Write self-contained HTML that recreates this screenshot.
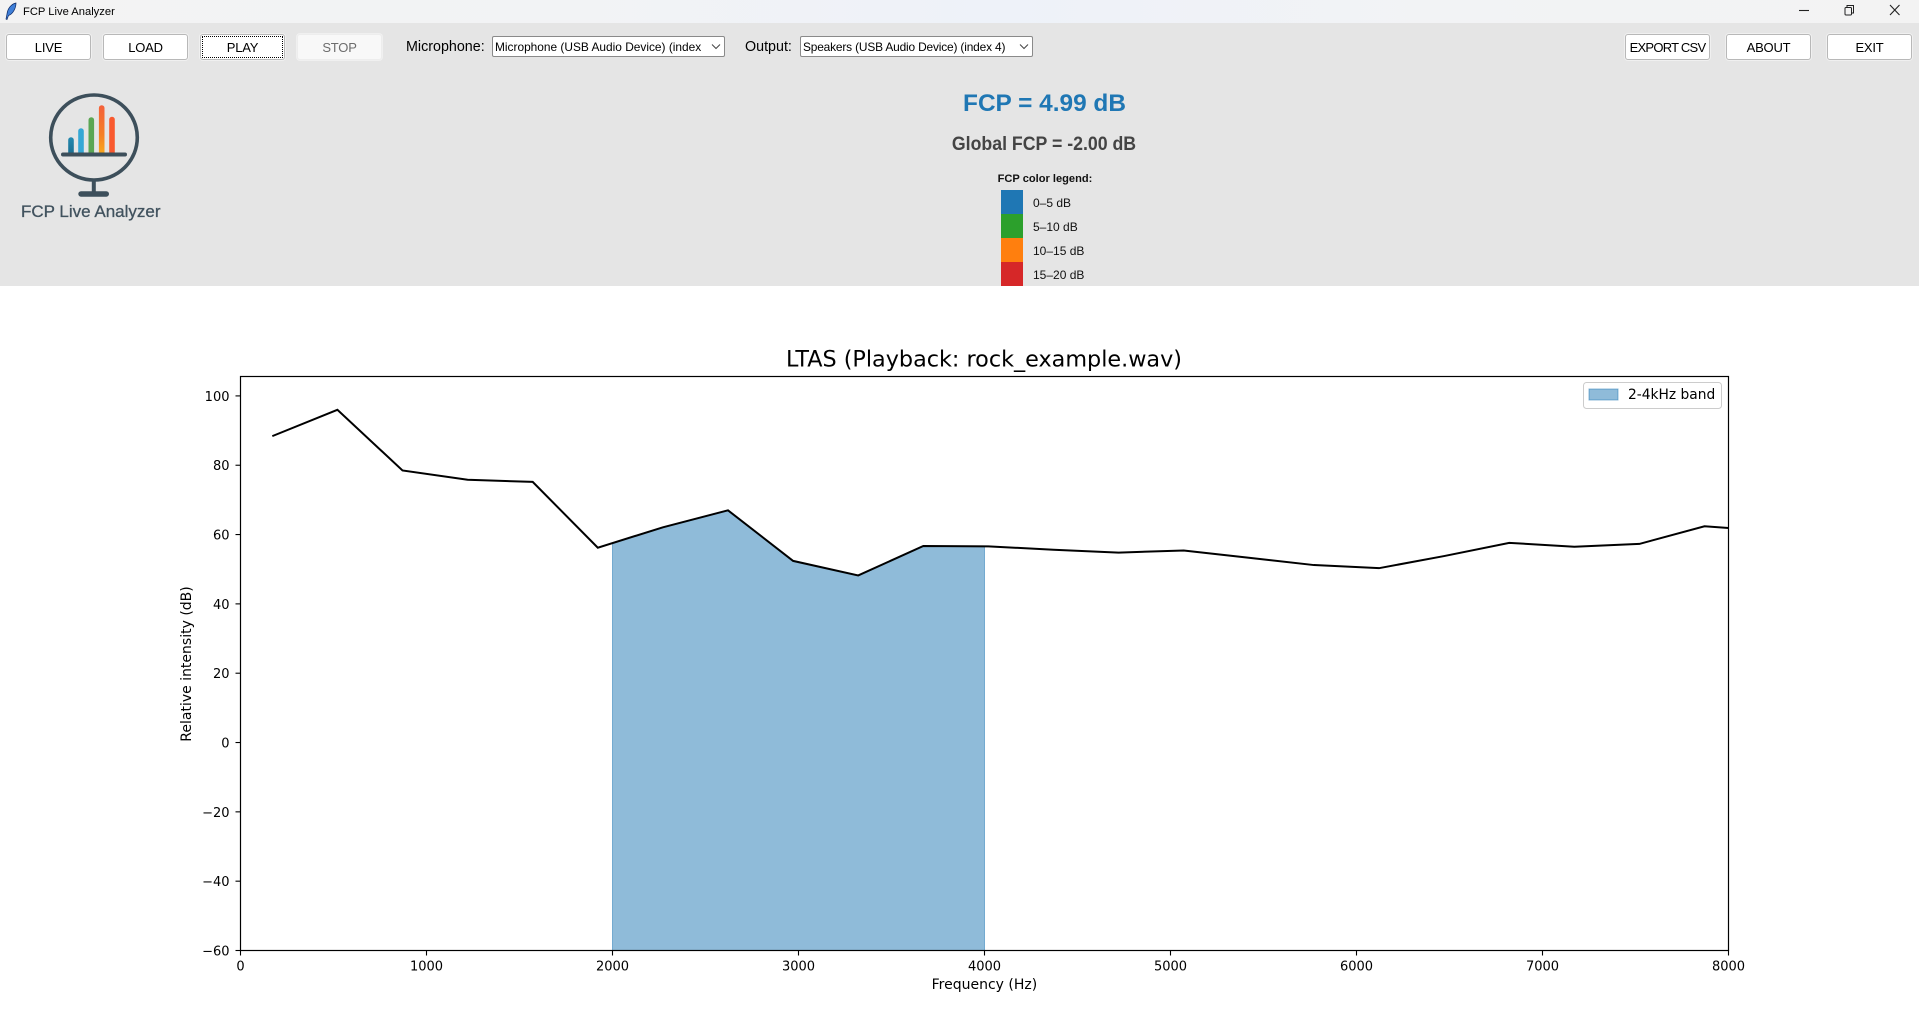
<!DOCTYPE html>
<html lang="en">
<head>
<meta charset="utf-8">
<title>FCP Live Analyzer</title>
<style>
html,body{margin:0;padding:0;width:1919px;height:1030px;overflow:hidden;background:#fff;font-family:"Liberation Sans",sans-serif;color:#000}
.abs{position:absolute;white-space:nowrap}
#titlebar{left:0;top:0;width:1919px;height:23px;background:linear-gradient(90deg,#f3f3f3 0%,#f2f3f5 30%,#eef2f9 52%,#f2f3f5 75%,#f3f3f3 100%)}
#panel{left:0;top:23px;width:1919px;height:263px;background:#e5e5e5}
.btn{position:absolute;top:34px;height:26px;box-sizing:border-box;background:#fff;border:1px solid #b8b8b8;border-radius:3px;box-shadow:0 0 0 1px #f0f0f0;font:13px/26px "Liberation Sans",sans-serif;letter-spacing:-.2px;text-align:center;padding:0;color:#000}
.btn.off{background:#f8f8f8;border-color:#ededed;color:#6d6d6d}
.btn.focus:after{content:"";position:absolute;left:1px;top:1px;right:1px;bottom:1px;border:1px dotted #000}
.lbl{font-size:14.3px;line-height:20px;top:37px}
.sel{position:absolute;top:36px;height:21px;box-sizing:border-box;background:#fff;border:1px solid #8a8a8a;border-radius:2px;font-size:11.9px;line-height:20px;padding-left:2px;white-space:nowrap;overflow:hidden}
.sel svg{position:absolute;top:6px}
.lg{font-size:12px;line-height:14px;left:1033px;color:#111}
.sw{left:1001px;width:22px;height:24px}
</style>
</head>
<body>
<div class="abs" id="titlebar"></div>
<svg class="abs" style="left:4px;top:2px" width="14" height="19" viewBox="0 0 14 19"><path d="M12 1C7 2 3.500 7 3 12l-1 5 1 .5 1.500-4C9 12 12 6 12 1z" fill="#3f7fd8" stroke="#0d2a66" stroke-width=".7"/></svg>
<div class="abs" style="left:23px;top:5px;font-size:11.2px;line-height:15px">FCP Live Analyzer</div>
<svg class="abs" style="left:1795px;top:3px" width="115" height="16" viewBox="0 0 115 16"><path d="M4 7.500H14" stroke="#222" stroke-width="1.100"/><g fill="none" stroke="#222"><rect x="50" y="4.500" width="6.500" height="7.500" rx="1"/><path d="M52 4.500V2.500H58.500V10H56.500"/></g><path d="M95 2L104.500 12M104.500 2L95 12" stroke="#222" stroke-width="1.100"/></svg>

<div class="abs" id="panel"></div>

<button class="btn" style="left:6px;width:85px">LIVE</button>
<button class="btn" style="left:103px;width:85px">LOAD</button>
<button class="btn focus" style="left:200px;width:85px">PLAY</button>
<button class="btn off" style="left:297px;width:85px">STOP</button>
<div class="abs lbl" style="left:406px">Microphone:</div>
<div class="sel" style="left:492px;width:233px">Microphone (USB Audio Device) (index<svg style="left:218px" width="10" height="7" viewBox="0 0 10 7"><path d="M1 1.500L5 5.500L9 1.500" fill="none" stroke="#444"/></svg></div>
<div class="abs lbl" style="left:745px">Output:</div>
<div class="sel" style="left:800px;width:233px;letter-spacing:-.16px">Speakers (USB Audio Device) (index 4)<svg style="left:218px" width="10" height="7" viewBox="0 0 10 7"><path d="M1 1.500L5 5.500L9 1.500" fill="none" stroke="#444"/></svg></div>
<button class="btn" style="left:1625px;width:85px;letter-spacing:-.75px">EXPORT CSV</button>
<button class="btn" style="left:1726px;width:85px">ABOUT</button>
<button class="btn" style="left:1827px;width:85px">EXIT</button>

<svg class="abs" style="left:0;top:70px" width="200" height="170" viewBox="0 70 200 170">
<defs>
<linearGradient id="g1" x1="0" y1="0" x2="0" y2="1"><stop offset="0" stop-color="#2389b0"/><stop offset="1" stop-color="#1a6f92"/></linearGradient>
<linearGradient id="g4" x1="0" y1="0" x2="0" y2="1"><stop offset="0" stop-color="#f4603a"/><stop offset=".6" stop-color="#f57f25"/><stop offset="1" stop-color="#f9a71c"/></linearGradient>
</defs>
<ellipse cx="94" cy="137.500" rx="43.300" ry="42.500" fill="none" stroke="#3d4f5b" stroke-width="3.600"/>
<path d="M68.200 154V140a2.800 2.800 0 0 1 5.600 0V154z" fill="url(#g1)"/>
<path d="M78.200 154V131a2.800 2.800 0 0 1 5.600 0V154z" fill="#35a7d5"/>
<path d="M88.500 154V120a2.800 2.800 0 0 1 5.600 0V154z" fill="#5aa653"/>
<path d="M98.900 154V108a2.800 2.800 0 0 1 5.600 0V154z" fill="url(#g4)"/>
<path d="M109.200 154V119.500a2.800 2.800 0 0 1 5.600 0V154z" fill="#f9592e"/>
<rect x="61" y="152.500" width="66" height="4" rx="2" fill="#3d4f5b"/>
<rect x="91.800" y="181" width="4" height="13" fill="#3d4f5b"/>
<rect x="78.300" y="191.200" width="30.700" height="5.500" rx="2.700" fill="#3d4f5b"/>
<text x="21" y="217" font-family="Liberation Sans, sans-serif" font-size="17" fill="#41525e" stroke="#41525e" stroke-width=".3">FCP Live Analyzer</text>
</svg>

<div class="abs" style="left:844.500px;width:400px;top:89px;text-align:center;font-size:24.400px;line-height:30px;font-weight:bold;color:#1f77b4">FCP = 4.99 dB</div>
<div class="abs" style="left:844px;width:400px;top:133px;text-align:center;font-size:19px;line-height:24px;font-weight:bold;color:#444;transform:scaleX(.932)">Global FCP = -2.00 dB</div>
<div class="abs" style="left:845px;width:400px;top:172px;text-align:center;font-size:11.100px;line-height:14px;font-weight:bold;color:#111">FCP color legend:</div>
<div class="abs sw" style="top:190px;background:#1f77b4"></div>
<div class="abs sw" style="top:214px;background:#2ca02c"></div>
<div class="abs sw" style="top:238px;background:#ff7f0e"></div>
<div class="abs sw" style="top:262px;background:#d62728"></div>
<div class="abs lg" style="top:195.500px">0–5 dB</div>
<div class="abs lg" style="top:219.500px">5–10 dB</div>
<div class="abs lg" style="top:243.500px">10–15 dB</div>
<div class="abs lg" style="top:267.500px">15–20 dB</div>

<svg class="abs" id="chart" style="left:0;top:286px" width="1919" height="744" viewBox="0 286 1919 744" font-family="DejaVu Sans, sans-serif">
<defs><clipPath id="plotClip"><rect x="240.500" y="376.500" width="1488" height="574"/></clipPath></defs>
<text x="984" y="366.500" text-anchor="middle" font-size="22.300" fill="#000">LTAS (Playback: rock_example.wav)</text>
<g id="band" clip-path="url(#plotClip)"></g>
<g id="series" clip-path="url(#plotClip)"></g>
<rect x="240.500" y="376.500" width="1488" height="574" fill="none" stroke="#000" stroke-width="1.200"/>
<g id="xAxis"></g>
<g id="yAxis"></g>
<text x="984.400" y="989" text-anchor="middle" font-size="14">Frequency (Hz)</text>
<text transform="translate(191 664) rotate(-90)" text-anchor="middle" font-size="14">Relative intensity (dB)</text>
<g>
<rect x="1583.500" y="382.500" width="138" height="26" rx="3" fill="#fff" fill-opacity=".8" stroke="#ccc"/>
<rect x="1589" y="389" width="29" height="11" fill="#1f77b4" fill-opacity=".5" stroke="#1f77b4" stroke-opacity=".5"/>
<text x="1628" y="399.200" font-size="13.800">2-4kHz band</text>
</g>
</svg>

<script>
const frequenciesHz = [171,521,871,1221,1571,1921,2271,2621,2971,3321,3671,4021,4371,4721,5071,5421,5771,6121,6471,6821,7171,7521,7871,8221];
const intensityDb = [88.4,96.0,78.5,75.8,75.2,56.2,62.1,67.0,52.4,48.2,56.7,56.6,55.6,54.8,55.4,53.3,51.2,50.3,53.8,57.6,56.5,57.3,62.4,61.0];
const xTicks = [0,1000,2000,3000,4000,5000,6000,7000,8000];
const yTicks = [-60,-40,-20,0,20,40,60,80,100];
const bandRange = [2000,4000];
const xLimits = [0,8000];
const yLimits = [-60,105.6];

const plot = {left:240.5,right:1728.5,top:376.5,bottom:950.5};
const NS = 'http://www.w3.org/2000/svg';
function xScale(v){return plot.left+(v-xLimits[0])/(xLimits[1]-xLimits[0])*(plot.right-plot.left);}
function yScale(v){return plot.bottom-(v-yLimits[0])/(yLimits[1]-yLimits[0])*(plot.bottom-plot.top);}
function valueAt(f){
  for(let i=0;i<frequenciesHz.length-1;i++){
    if(f>=frequenciesHz[i]&&f<=frequenciesHz[i+1]){
      const t=(f-frequenciesHz[i])/(frequenciesHz[i+1]-frequenciesHz[i]);
      return intensityDb[i]+t*(intensityDb[i+1]-intensityDb[i]);
    }
  }
  return yLimits[0];
}
function make(tag,attrs,parent){
  const el=document.createElementNS(NS,tag);
  for(const k in attrs){el.setAttribute(k,attrs[k]);}
  parent.appendChild(el);
  return el;
}
const bandPts=[[bandRange[0],yLimits[0]],[bandRange[0],valueAt(bandRange[0])]];
frequenciesHz.forEach(function(f,i){if(f>bandRange[0]&&f<bandRange[1]){bandPts.push([f,intensityDb[i]]);}});
bandPts.push([bandRange[1],valueAt(bandRange[1])],[bandRange[1],yLimits[0]]);
const bandPoly=make('polygon',{points:bandPts.map(function(p){return xScale(p[0]).toFixed(2)+','+yScale(p[1]).toFixed(2);}).join(' '),fill:'#1f77b4','fill-opacity':'.5',stroke:'#1f77b4','stroke-opacity':'.5','stroke-width':'1'},document.getElementById('band'));


const line=make('polyline',{points:frequenciesHz.map(function(f,i){return xScale(f).toFixed(2)+','+yScale(intensityDb[i]).toFixed(2);}).join(' '),fill:'none',stroke:'#000','stroke-width':'2','stroke-linejoin':'miter'},document.getElementById('series'));


const xAxisG=document.getElementById('xAxis');
xTicks.forEach(function(t){
  const x=xScale(t);
  const tick=make('line',{x1:x,x2:x,y1:plot.bottom,y2:plot.bottom+5,stroke:'#000','stroke-width':'1.1'},xAxisG);
  
  
  const label=make('text',{x:x,y:970.7,'text-anchor':'middle','font-size':'13'},xAxisG);
  label.textContent=String(t);
  
  
});
const yAxisG=document.getElementById('yAxis');
yTicks.forEach(function(t){
  const y=yScale(t);
  const tick=make('line',{x1:plot.left-5,x2:plot.left,y1:y,y2:y,stroke:'#000','stroke-width':'1.1'},yAxisG);
  
  
  const label=make('text',{x:plot.left-11,y:y+5,'text-anchor':'end','font-size':'13'},yAxisG);
  label.textContent=String(t).replace('-','\u2212');
  
  
});
</script>
</body>
</html>
